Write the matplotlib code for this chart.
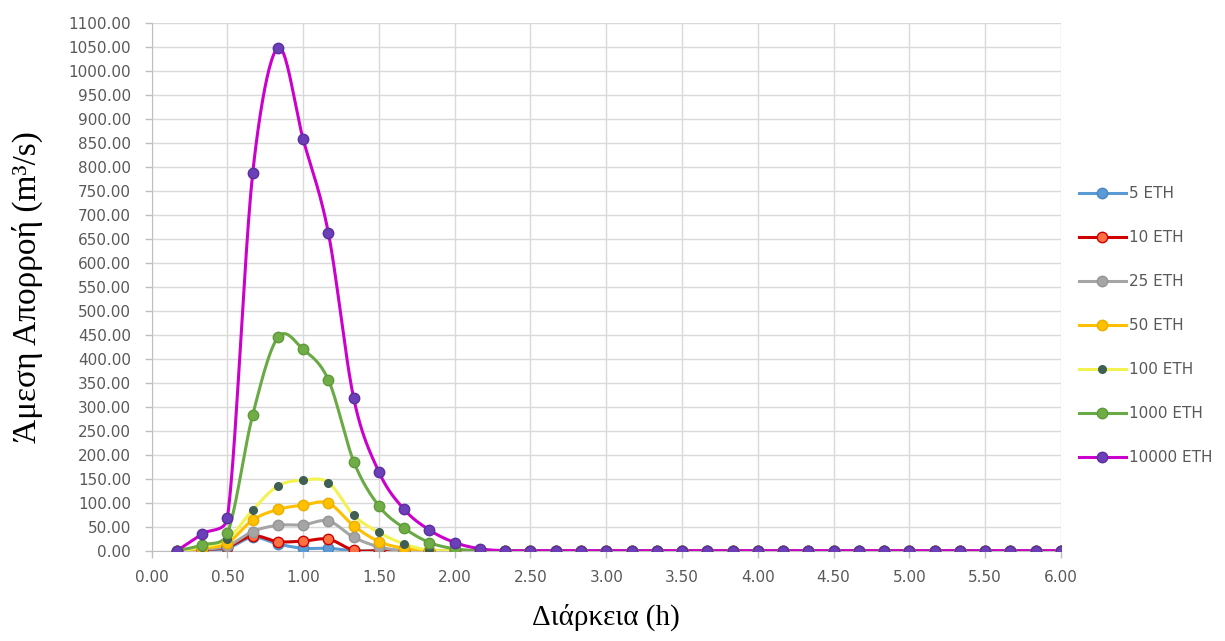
import numpy as np
import matplotlib
matplotlib.use("Agg")
import matplotlib.pyplot as plt
from matplotlib.lines import Line2D
from matplotlib.ticker import FormatStrFormatter

# Time steps (minutes) of the hydrograph ordinates
minutes = [10, 20, 30, 40, 50, 60, 70, 80, 90, 100, 110, 120,
           130, 140, 150, 160, 170, 180, 190, 200, 210, 220, 230, 240,
           250, 260, 270, 280, 290, 300, 310, 320, 330, 340, 350, 360]

# Direct runoff (m3/s) per return period
q5 = [0, 1, 5, 28, 14, 5, 5, 0, 0, 0, 0, 0,
      0, 0, 0, 0, 0, 0, 0, 0, 0, 0, 0, 0,
      0, 0, 0, 0, 0, 0, 0, 0, 0, 0, 0, 0]
q10 = [0, 2, 8, 31, 19, 20, 24, 1, 0, 0, 0, 0,
       0, 0, 0, 0, 0, 0, 0, 0, 0, 0, 0, 0,
       0, 0, 0, 0, 0, 0, 0, 0, 0, 0, 0, 0]
q25 = [0, 3, 10, 40, 53, 54, 62, 28, 8, 0, 0, 0,
       0, 0, 0, 0, 0, 0, 0, 0, 0, 0, 0, 0,
       0, 0, 0, 0, 0, 0, 0, 0, 0, 0, 0, 0]
q50 = [0, 5, 16, 64, 86, 95, 99, 52, 19, 5, 0, 0,
       0, 0, 0, 0, 0, 0, 0, 0, 0, 0, 0, 0,
       0, 0, 0, 0, 0, 0, 0, 0, 0, 0, 0, 0]
q100 = [0, 8, 24, 85, 135, 147, 142, 74, 38, 14, 1, 0,
        0, 0, 0, 0, 0, 0, 0, 0, 0, 0, 0, 0,
        0, 0, 0, 0, 0, 0, 0, 0, 0, 0, 0, 0]
q1000 = [0, 12, 36, 283, 445, 420, 356, 186, 93, 47, 17, 4,
         0, 0, 0, 0, 0, 0, 0, 0, 0, 0, 0, 0,
         0, 0, 0, 0, 0, 0, 0, 0, 0, 0, 0, 0]
q10000 = [0, 35, 69, 787, 1049, 858, 662, 318, 164, 86, 43, 17,
          4, 0, 0, 0, 0, 0, 0, 0, 0, 0, 0, 0,
          0, 0, 0, 0, 0, 0, 0, 0, 0, 0, 0, 0]

labels = ["5 ETH", "10 ETH", "25 ETH", "50 ETH", "100 ETH", "1000 ETH", "10000 ETH"]
series = [q5, q10, q25, q50, q100, q1000, q10000]

# line colour, marker face, marker edge, marker size
styles = [
    ("#5B9BD5", "#5B9BD5", "#4A86C0", 7.5),
    ("#D00000", "#FF7043", "#D00000", 7.5),
    ("#A5A5A5", "#A5A5A5", "#959595", 7.5),
    ("#FFC000", "#FFC000", "#E8AE00", 7.5),
    ("#F2F250", "#3F5F55", "#3F5F55", 5.5),
    ("#6AAA45", "#70AD47", "#5E9A3A", 7.5),
    ("#CC00CC", "#6A3FB8", "#5A2FA0", 7.5),
]


def smooth_display(pts, n=24):
    """Spreadsheet-style smoothed line: cubic Bezier segments whose handles
    are 1/6 of the neighbour chord, limited to half of the segment length."""
    p = np.vstack([pts[:1], pts, pts[-1:]])
    out = []
    s = np.linspace(0, 1, n, endpoint=False)[:, None]
    for i in range(1, len(p) - 2):
        p0, p1, p2, p3 = p[i - 1], p[i], p[i + 1], p[i + 2]
        d02 = np.hypot(*(p2 - p0))
        d12 = np.hypot(*(p2 - p1))
        d13 = np.hypot(*(p3 - p1))
        f0 = 1 / 6 if d02 == 0 else min(1 / 6, d12 / (2 * d02))
        f1 = 1 / 6 if d13 == 0 else min(1 / 6, d12 / (2 * d13))
        c1 = p1 + f0 * (p2 - p0)
        c2 = p2 - f1 * (p3 - p1)
        out.append((1 - s) ** 3 * p1 + 3 * (1 - s) ** 2 * s * c1
                   + 3 * (1 - s) * s ** 2 * c2 + s ** 3 * p2)
    out.append(pts[-1:])
    return np.vstack(out)


hours = np.array(minutes) / 60.0

fig = plt.figure(figsize=(12.25, 6.41), dpi=100)
ax = fig.add_axes([0.1238, 0.1409, 0.7422, 0.8227])

grid_c = "#D9D9D9"
text_c = "#595959"
ax.set_xlim(0, 6)
ax.set_ylim(0, 1100)
ax.set_xticks(np.arange(0, 6.01, 0.5))
ax.set_yticks(np.arange(0, 1100.1, 50))
ax.xaxis.set_major_formatter(FormatStrFormatter("%.2f"))
ax.yaxis.set_major_formatter(FormatStrFormatter("%.2f"))
ax.grid(True, color=grid_c, linewidth=1.0)
ax.set_axisbelow(True)
for side in ["top", "right"]:
    ax.spines[side].set_visible(False)
for side in ["left", "bottom"]:
    ax.spines[side].set_color("#BFBFBF")
ax.tick_params(axis="y", direction="out", length=5, width=1, color="#BFBFBF",
               pad=10, labelcolor=text_c, labelsize=11)
ax.tick_params(axis="x", direction="out", length=5, width=1, color="#BFBFBF",
               pad=9, labelcolor=text_c, labelsize=11)

fig.canvas.draw()
to_disp = ax.transData
to_data = ax.transData.inverted()

handles = []
for q, lab, (lc, mf, me, ms) in zip(series, labels, styles):
    disp = to_disp.transform(np.column_stack([hours, q]))
    curve = to_data.transform(smooth_display(disp))
    ax.plot(curve[:, 0], curve[:, 1], color=lc, linewidth=2.2, zorder=3,
            solid_capstyle="round")
    ax.plot(hours, q, linestyle="none", marker="o", markersize=ms,
            markerfacecolor=mf, markeredgecolor=me, markeredgewidth=1.0, zorder=4)
    handles.append(Line2D([], [], color=lc, linewidth=2.2, marker="o", markersize=ms,
                          markerfacecolor=mf, markeredgecolor=me))

ax.set_xlabel("Διάρκεια (h)", fontfamily="Liberation Serif", fontsize=21)
ax.set_ylabel("Άμεση Απορροή (m³/s)", fontfamily="Liberation Serif", fontsize=24)
ax.xaxis.set_label_coords(0.5, -0.1)
ax.yaxis.set_label_coords(-0.12, 0.5)

leg = fig.legend(handles, labels, loc="center left",
                 bbox_to_anchor=(1065 / 1225, 1 - 325.5 / 641), frameon=False,
                 handlelength=3.1, handletextpad=0.2, labelspacing=1.9,
                 prop={"size": 11})
for t in leg.get_texts():
    t.set_color(text_c)

fig.savefig("out.png", dpi=100)
